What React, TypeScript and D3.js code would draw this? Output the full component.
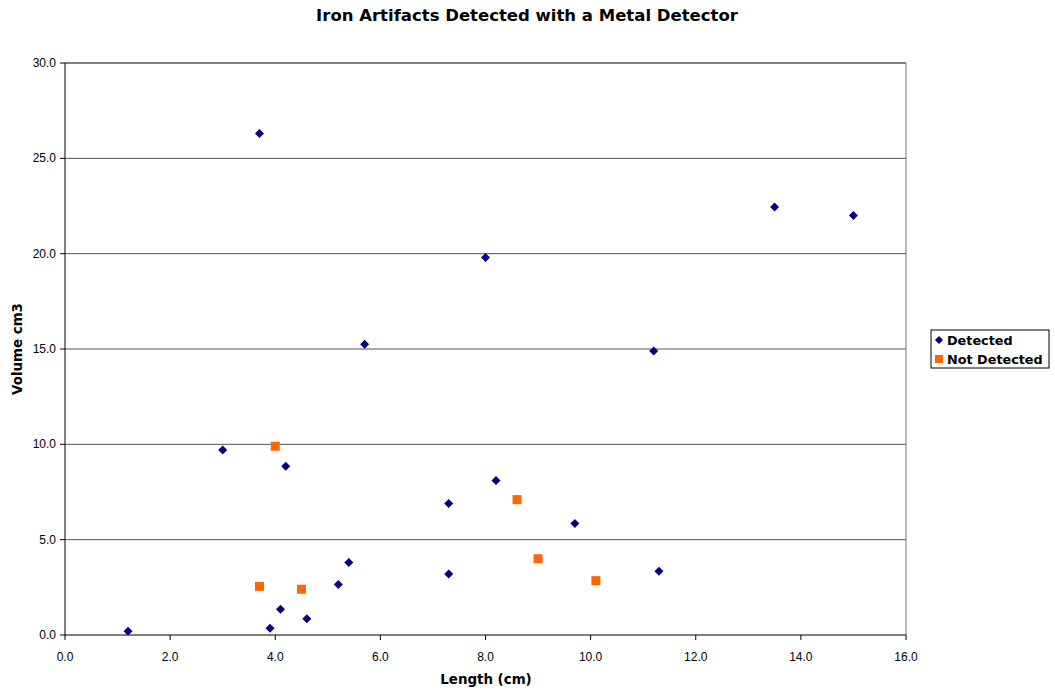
import React from "react";
import * as d3 from "d3";

const detectedX = [1.2, 3.0, 3.7, 3.9, 4.1, 4.2, 4.6, 5.2, 5.4, 5.7, 7.3, 7.3, 8.0, 8.2, 9.7, 11.2, 11.3, 13.5, 15.0];
const detectedY = [0.2, 9.7, 26.3, 0.35, 1.35, 8.85, 0.85, 2.65, 3.8, 15.25, 6.9, 3.2, 19.8, 8.1, 5.85, 14.9, 3.35, 22.45, 22.0];
const notDetectedX = [3.7, 4.0, 4.5, 8.6, 9.0, 10.1];
const notDetectedY = [2.55, 9.9, 2.4, 7.1, 4.0, 2.85];
const xTicks = [0, 2, 4, 6, 8, 10, 12, 14, 16];
const yTicks = [0, 5, 10, 15, 20, 25, 30];
const seriesNames = ["Detected", "Not Detected"];
const title = "Iron Artifacts Detected with a Metal Detector";
const xTitle = "Length (cm)";
const yTitle = "Volume cm3";

export default function App() {
  const W = 1055, H = 693;
  const left = 65, right = 906, top = 63, bottom = 635;
  const x = d3.scaleLinear().domain([0, 16]).range([left, right]);
  const y = d3.scaleLinear().domain([0, 30]).range([bottom, top]);
  const diamond = (cx: number, cy: number, r = 4.5) =>
    `M${cx},${cy - r}L${cx + r},${cy}L${cx},${cy + r}L${cx - r},${cy}Z`;
  const navy = "#000080";
  const orange = "#FF6600";
  const tickFont = "'Liberation Sans', Arial, sans-serif";
  const boldFont = "'DejaVu Sans', Verdana, sans-serif";
  return (
    <svg width={W} height={H} style={{ position: "absolute", left: 0, top: 0, background: "#fff" }}>
      <rect x={0} y={0} width={W} height={H} fill="#fff" />
      <text x={527} y={21} textAnchor="middle" fontFamily={boldFont} fontWeight="bold" fontSize={16.5}>{title}</text>
      {yTicks.filter(t => t > 0).map(t => (
        <line key={"g" + t} x1={left} x2={right} y1={y(t)} y2={y(t)} stroke={t === 30 ? "#000" : "#555"} strokeWidth={1} />
      ))}
      <line x1={right} x2={right} y1={top} y2={bottom} stroke="#777" strokeWidth={1} />
      <line x1={left} x2={left} y1={top} y2={bottom} stroke="#000" strokeWidth={1} />
      <line x1={left} x2={right} y1={bottom} y2={bottom} stroke="#000" strokeWidth={1.2} />
      {yTicks.map(t => (
        <g key={"y" + t}>
          <line x1={left - 5} x2={left} y1={y(t)} y2={y(t)} stroke="#000" />
          <text x={left - 9} y={y(t) + 4} textAnchor="end" fontFamily={tickFont} fontSize={12}>{t.toFixed(1)}</text>
        </g>
      ))}
      {xTicks.map(t => (
        <g key={"x" + t}>
          <line x1={x(t)} x2={x(t)} y1={bottom} y2={bottom + 5} stroke="#000" />
          <text x={x(t)} y={bottom + 26} textAnchor="middle" fontFamily={tickFont} fontSize={12}>{t.toFixed(1)}</text>
        </g>
      ))}
      <text x={486} y={684} textAnchor="middle" fontFamily={boldFont} fontWeight="bold" fontSize={13.4}>{xTitle}</text>
      <text transform={`translate(22,${(top + bottom) / 2}) rotate(-90)`} textAnchor="middle" fontFamily={boldFont} fontWeight="bold" fontSize={13.4}>{yTitle}</text>
      {detectedX.map((v, i) => (
        <path key={"d" + i} d={diamond(x(v), y(detectedY[i]))} fill={navy} />
      ))}
      {notDetectedX.map((v, i) => (
        <rect key={"n" + i} x={x(v) - 4.5} y={y(notDetectedY[i]) - 4.5} width={9} height={9} fill={orange} />
      ))}
      <rect x={931} y={330} width={118} height={38} fill="#fff" stroke="#000" strokeWidth={1} />
      <path d={diamond(939, 340, 4)} fill={navy} />
      <text x={947} y={345} fontFamily={boldFont} fontWeight="bold" fontSize={12.8}>{seriesNames[0]}</text>
      <rect x={935} y={355} width={8} height={8} fill={orange} />
      <text x={947} y={364} fontFamily={boldFont} fontWeight="bold" fontSize={12.8}>{seriesNames[1]}</text>
    </svg>
  );
}
